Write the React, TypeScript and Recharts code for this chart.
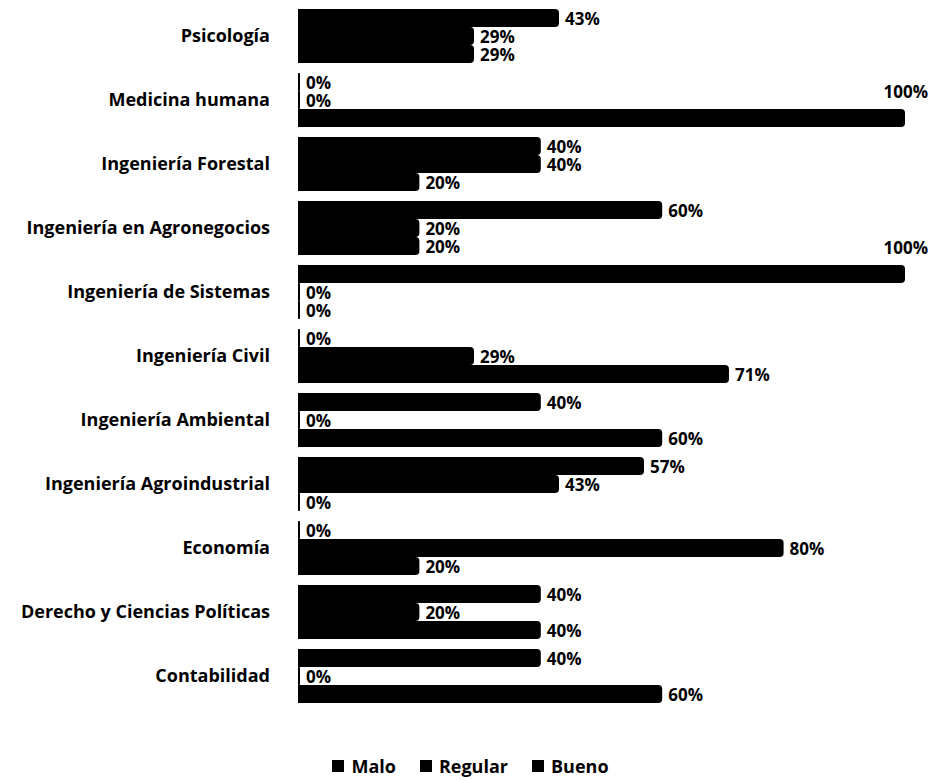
import { BarChart, Bar, XAxis, YAxis, Legend } from 'recharts';

// Carreras (de arriba hacia abajo)
const categorias = [
  'Psicología',
  'Medicina humana',
  'Ingeniería Forestal',
  'Ingeniería en Agronegocios',
  'Ingeniería de Sistemas',
  'Ingeniería Civil',
  'Ingeniería Ambiental',
  'Ingeniería Agroindustrial',
  'Economía',
  'Derecho y Ciencias Políticas',
  'Contabilidad',
];

// Porcentajes por serie
const bueno = [43, 0, 40, 60, 100, 0, 40, 57, 0, 40, 40];
const regular = [29, 0, 40, 20, 0, 29, 0, 43, 80, 20, 0];
const malo = [29, 100, 20, 20, 0, 71, 60, 0, 20, 40, 60];

const series = [
  { key: 'malo', name: 'Malo' },
  { key: 'regular', name: 'Regular' },
  { key: 'bueno', name: 'Bueno' },
];

const data = categorias.map((name, i) => ({
  name,
  malo: malo[i],
  regular: regular[i],
  bueno: bueno[i],
}));

const FONT = '"Open Sans", Lato, sans-serif';

const renderLabel = (props: any) => {
  const { x, y, width, height, value } = props;
  const common = {
    fontFamily: FONT,
    fontWeight: 700,
    fontSize: 17,
    fill: '#000',
  };
  if (value === 100) {
    // no cabe a la derecha: va encima del extremo de la barra
    return (
      <text x={x + width + 23} y={y - 11} textAnchor="end" {...common}>
        {`${value}%`}
      </text>
    );
  }
  return (
    <text x={x + width + 6} y={y + height / 2 + 7} textAnchor="start" {...common}>
      {`${value}%`}
    </text>
  );
};

function LeyendaCarreras() {
  return (
    <div style={{ display: 'flex', justifyContent: 'center', gap: 24, fontFamily: FONT, fontWeight: 700, fontSize: 18 }}>
      {series.map((s) => (
        <div key={s.key} style={{ display: 'flex', alignItems: 'center', gap: 7 }}>
          <span style={{ display: 'inline-block', width: 12, height: 12, background: '#000' }} />
          <span>{s.name}</span>
        </div>
      ))}
    </div>
  );
}

export default function App() {
  return (
    <div style={{ position: 'absolute', left: 0, top: 0, background: '#fff' }}>
      <BarChart
        width={941}
        height={780}
        data={data}
        layout="vertical"
        margin={{ top: 4, right: 36, left: 0, bottom: 48 }}
        barGap={0}
      >
        <XAxis type="number" domain={[0, 100]} hide />
        <YAxis
          type="category"
          dataKey="name"
          width={298}
          tickSize={0}
          tickMargin={28}
          axisLine={false}
          tick={{ fontFamily: FONT, fontWeight: 700, fontSize: 18, fill: '#000' }}
        />
        <Legend content={<LeyendaCarreras />} wrapperStyle={{ top: 754, left: 0, width: 941 }} />
        <Bar dataKey="bueno" name="Bueno" fill="#000" barSize={18} minPointSize={2} radius={[0, 4, 4, 0]} isAnimationActive={false} label={renderLabel} />
        <Bar dataKey="regular" name="Regular" fill="#000" barSize={18} minPointSize={2} radius={[0, 4, 4, 0]} isAnimationActive={false} label={renderLabel} />
        <Bar dataKey="malo" name="Malo" fill="#000" barSize={18} minPointSize={2} radius={[0, 4, 4, 0]} isAnimationActive={false} label={renderLabel} />
      </BarChart>
    </div>
  );
}
